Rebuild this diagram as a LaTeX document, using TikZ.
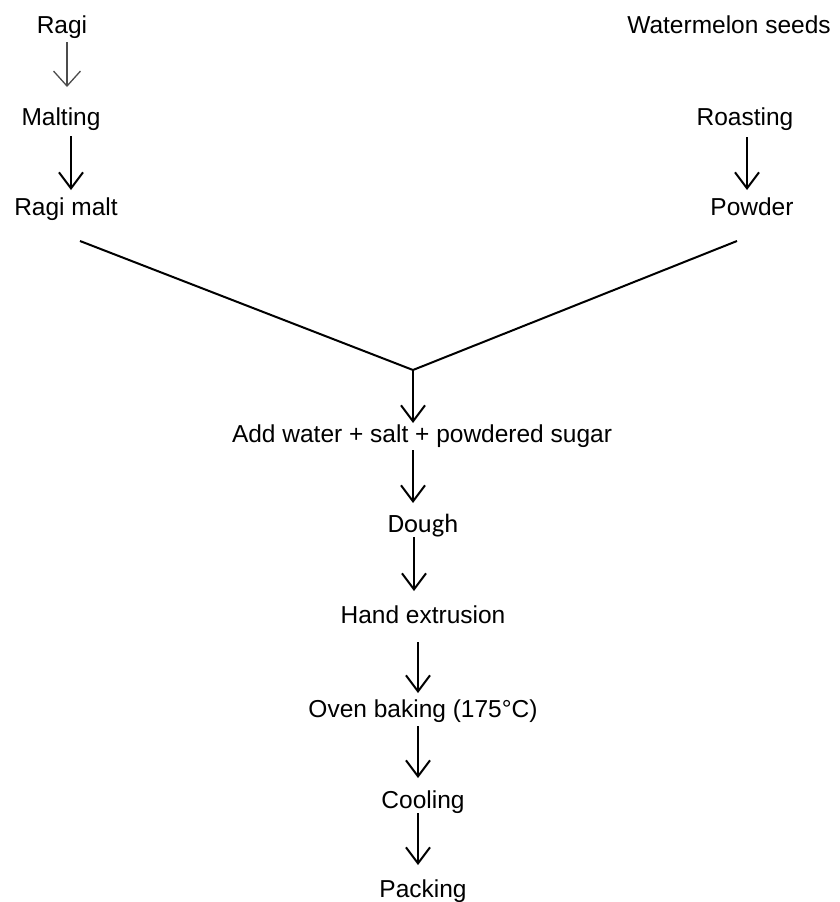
\documentclass[tikz,border=0pt]{standalone}
\usepackage{fontspec}
\setmainfont{Liberation Sans}
\newfontfamily\calib{Carlito}
\usetikzlibrary{arrows.meta}
\begin{document}
\begin{tikzpicture}[x=1pt,y=-1pt,
  lbl/.style={anchor=base,inner sep=0pt,font=\fontsize{24.5}{28}\selectfont},
  arr/.style={line width=2pt,-{Straight Barb[length=16pt,width=24pt,line width=2pt]}},
  garr/.style={line width=1.1pt,draw=black!70,-{Straight Barb[length=15pt,width=27pt,line width=1.3pt]}},
  ln/.style={line width=2pt}]
\useasboundingbox (0,0) rectangle (840,902);
\node[lbl] (ragi) at (62,33) {Ragi};
\node[lbl] (wm) at (729,33) {Watermelon seeds};
\node[lbl] (malt) at (61,125) {Malting};
\node[lbl] (roast) at (745,125) {Roasting};
\node[lbl] (rmalt) at (66,215) {Ragi malt};
\node[lbl] (powd) at (752,215) {Powder};
\node[lbl] (add) at (422,442) {Add water + salt + powdered sugar};
\node[lbl,font=\calib\fontsize{26.4}{30}\selectfont] (dough) at (423,532) {Dough};
\node[lbl] (hand) at (423,623) {Hand extrusion};
\node[lbl] (oven) at (423,717) {Oven baking (175°C)};
\node[lbl] (cool) at (423,808) {Cooling};
\node[lbl] (pack) at (423,897) {Packing};
% arrow end points
\coordinate (a1s) at (67,42);  \coordinate (a1e) at (67,87);
\coordinate (a2s) at (71,136); \coordinate (a2e) at (71,190);
\coordinate (a3s) at (747,137); \coordinate (a3e) at (747,190);
\coordinate (l1) at (80,241); \coordinate (l2) at (737,241);
\coordinate (m) at (413,370); \coordinate (a5e) at (413,423);
\coordinate (a6s) at (413,450); \coordinate (a6e) at (413,503);
\coordinate (a7s) at (414,537); \coordinate (a7e) at (414,591);
\coordinate (a8s) at (418,642); \coordinate (a8e) at (418,693);
\coordinate (a9s) at (418,726); \coordinate (a9e) at (418,778);
\coordinate (a10s) at (418,813); \coordinate (a10e) at (418,865);
\draw[garr] (a1s) -- (a1e);
\draw[arr] (a2s) -- (a2e);
\draw[arr] (a3s) -- (a3e);
\draw[ln] (l1) -- (m) -- (l2);
\draw[arr] (m) -- (a5e);
\draw[arr] (a6s) -- (a6e);
\draw[arr] (a7s) -- (a7e);
\draw[arr] (a8s) -- (a8e);
\draw[arr] (a9s) -- (a9e);
\draw[arr] (a10s) -- (a10e);
\end{tikzpicture}
\end{document}
